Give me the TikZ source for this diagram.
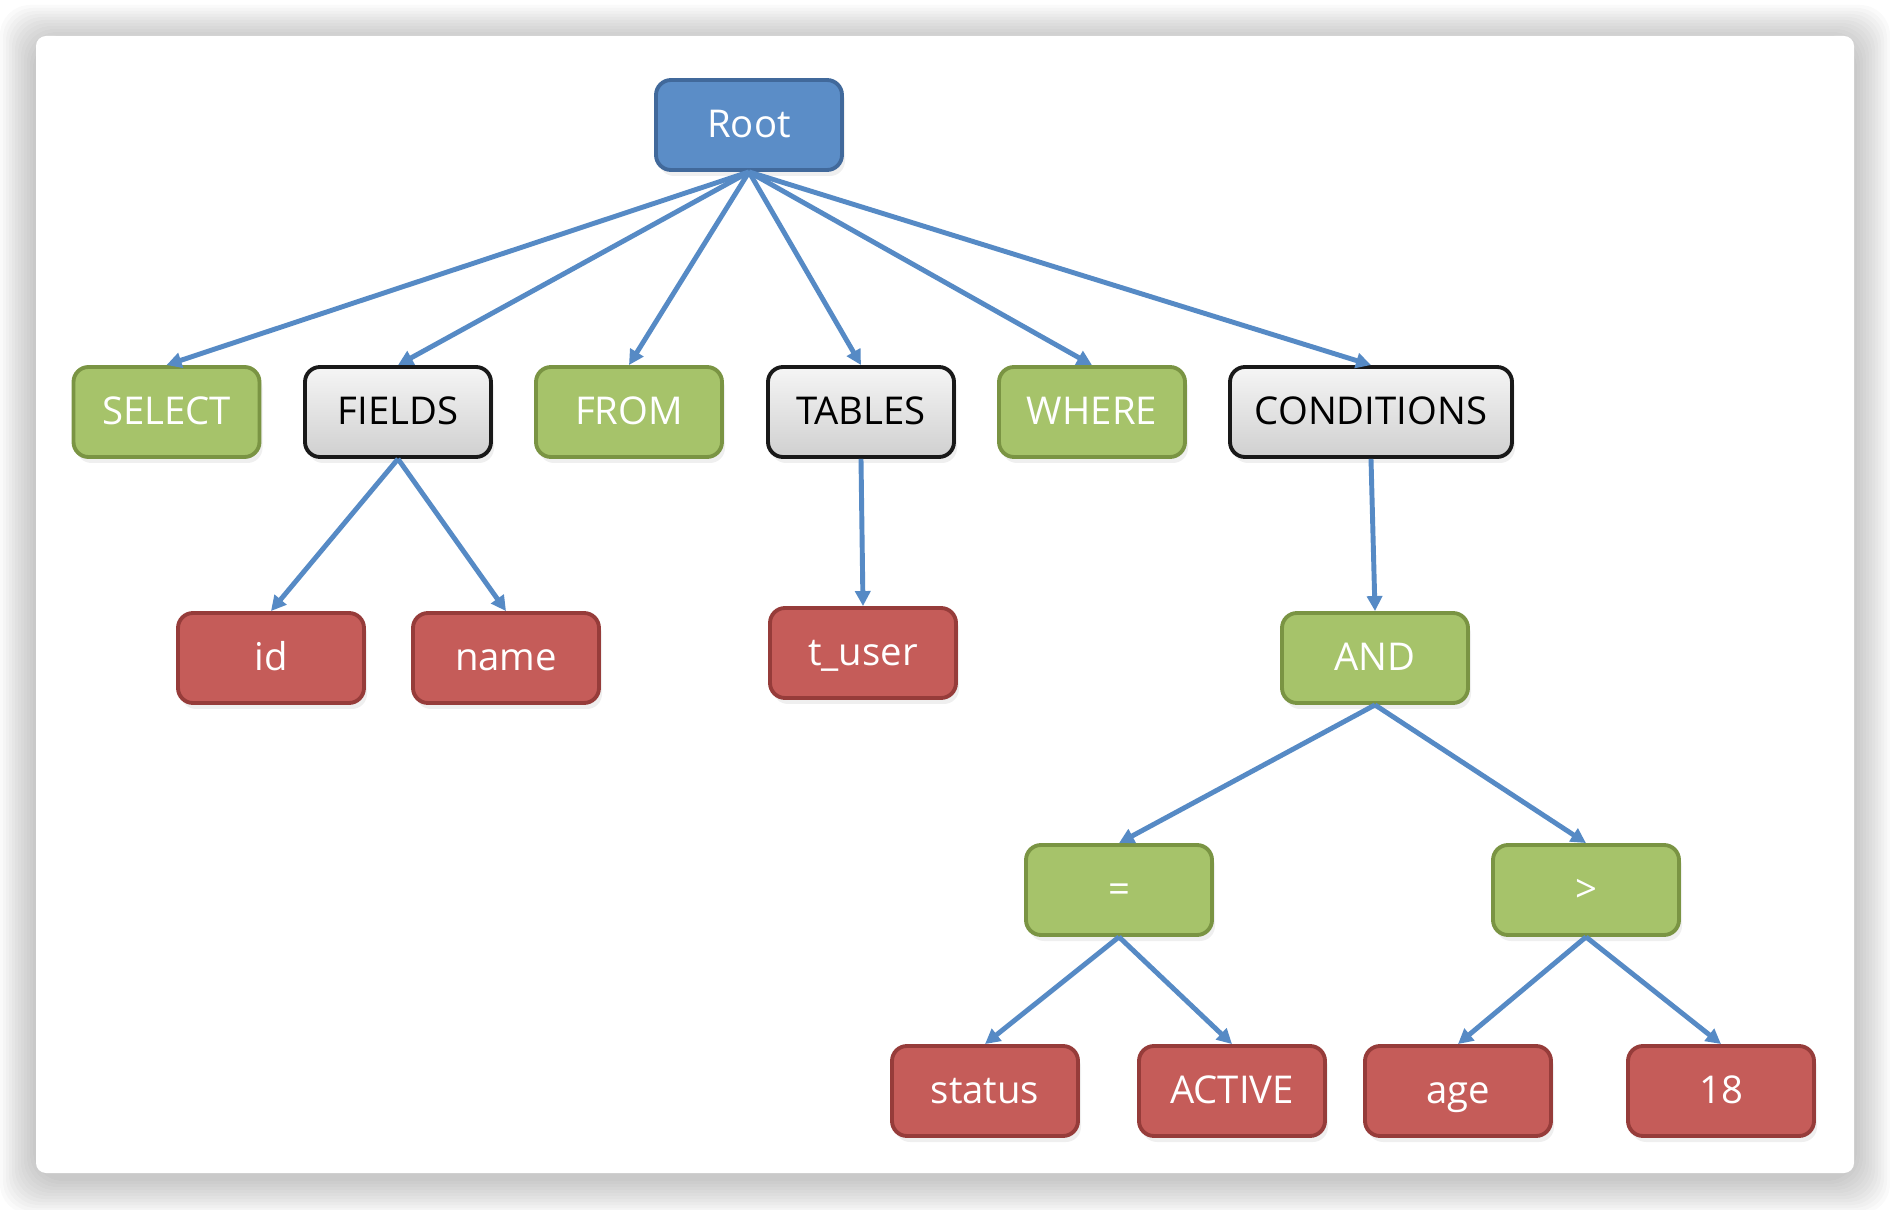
\documentclass[tikz,border=0pt]{standalone}
\usepackage{fontspec}
\setmainfont{Open Sans}
\definecolor{rootblue}{RGB}{91,141,199}
\definecolor{rootedge}{RGB}{65,105,155}
\definecolor{opgreen}{RGB}{166,195,106}
\definecolor{opedge}{RGB}{122,148,67}
\definecolor{valred}{RGB}{197,92,89}
\definecolor{valedge}{RGB}{150,60,58}
\definecolor{grptop}{RGB}{245,245,245}
\definecolor{grpbottom}{RGB}{208,208,208}
\definecolor{linkblue}{RGB}{86,138,197}
\usetikzlibrary{arrows.meta,shadows}

\begin{document}
\begin{tikzpicture}[
    n/.style={rectangle, rounded corners=1.5mm, minimum width=1.86cm, minimum height=0.9cm, inner sep=0pt,
        text height=0.92em, text depth=0.2em,
        line width=1.1pt, font=\fontsize{10.9}{13}\selectfont,
        drop shadow={opacity=0.12, shadow xshift=0.3mm, shadow yshift=-0.6mm}},
    root/.style={n, fill=rootblue, draw=rootedge, text=white},
    op/.style={n, fill=opgreen, draw=opedge, text=white},
    grp/.style={n, top color=grptop, bottom color=grpbottom, draw=black!90, text=black},
    val/.style={n, fill=valred, draw=valedge, text=white},
    link/.style={line width=1.4pt, draw=linkblue, -{Triangle[length=1.5mm, width=1.5mm]}}
]
    \useasboundingbox (0,0) rectangle (18.9,-12.1);
    \foreach \i in {1,...,12}
        \fill[black, opacity=0.018, rounded corners=3mm]
            ({0.36-\i*0.03},{-0.36+\i*0.03-0.05}) rectangle ({18.54+\i*0.03},{-11.73-\i*0.03-0.05});
    \fill[white, rounded corners=1mm] (0.36,-0.36) rectangle (18.54,-11.73);

    \node[root] (root) at (7.49,-1.25) {Root};

    \node[op]  (select) at (1.665,-4.12) {SELECT};
    \node[grp] (fields) at (3.98,-4.12) {FIELDS};
    \node[op]  (from) at (6.29,-4.12) {FROM};
    \node[grp] (tables) at (8.61,-4.12) {TABLES};
    \node[op]  (where) at (10.92,-4.12) {WHERE};
    \node[grp, minimum width=2.82cm] (conds) at (13.71,-4.12) {CONDITIONS};

    \node[val] (id) at (2.71,-6.58) {id};
    \node[val] (name) at (5.06,-6.58) {name};
    \node[val] (tuser) at (8.63,-6.53) {t\_user};
    \node[op]  (and) at (13.75,-6.58) {AND};

    \node[op] (eq) at (11.19,-8.90) {=};
    \node[op] (gt) at (15.86,-8.90) {>};

    \node[val] (status) at (9.85,-10.91) {status};
    \node[val] (active) at (12.32,-10.91) {ACTIVE};
    \node[val] (age) at (14.58,-10.91) {age};
    \node[val] (eighteen) at (17.21,-10.91) {18};

    \foreach \c in {select,fields,from,tables,where,conds}
        \draw[link] (root.south) -- (\c.north);
    \draw[link] (fields.south) -- (id.north);
    \draw[link] (fields.south) -- (name.north);
    \draw[link] (tables.south) -- (tuser.north);
    \draw[link] (conds.south) -- (and.north);
    \draw[link] (and.south) -- (eq.north);
    \draw[link] (and.south) -- (gt.north);
    \draw[link] (eq.south) -- (status.north);
    \draw[link] (eq.south) -- (active.north);
    \draw[link] (gt.south) -- (age.north);
    \draw[link] (gt.south) -- (eighteen.north);
\end{tikzpicture}
\end{document}
